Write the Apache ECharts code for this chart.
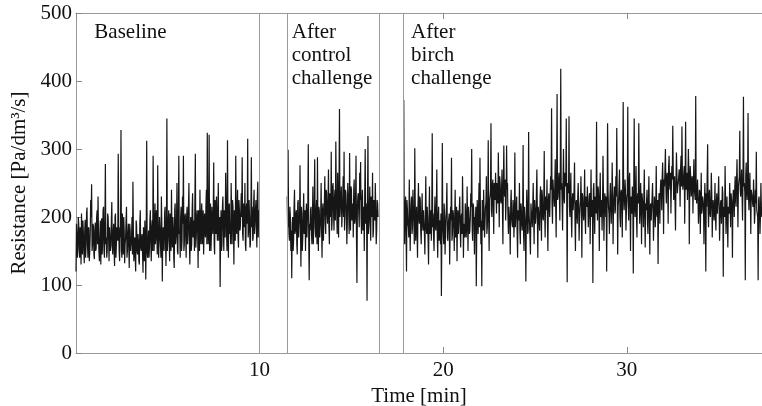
<!DOCTYPE html>
<html><head><meta charset="utf-8">
<script src="https://cdn.jsdelivr.net/npm/echarts@6/dist/echarts.min.js"></script>
<style>html,body{margin:0;padding:0;background:#fff}#c{width:762px;height:406px}</style>
</head><body><div id="c"></div>
<script>
// Sampling: each segment starts at its start time; "Values" are read at start + i*dt,
// "Mid" values are the readings half a step later (start + (i+0.5)*dt)
const baselineStart = 0, controlStart = 11.5, birchStart = 17.85, dt = 0.05;
const baselineValues = [
120,175,150,190,140,168,205,145,178,132,196,158,214,140,182,150,225,248,160,186,
138,192,155,210,230,148,175,130,198,162,215,140,278,170,150,200,135,185,158,222,
145,190,128,205,160,178,293,150,185,328,140,175,200,132,168,215,150,190,125,180,
150,200,252,135,170,120,188,145,165,130,210,150,175,118,160,195,108,312,140,180,
155,210,135,195,290,150,220,170,190,276,140,200,160,230,105,185,150,215,128,345,
165,210,135,195,240,155,185,125,220,170,250,145,290,180,200,150,230,290,160,205,
140,215,175,250,130,200,160,235,185,150,293,170,210,125,195,240,160,220,180,145,
205,170,240,324,160,321,190,150,215,175,280,145,200,230,165,250,185,97,210,160,
230,150,205,265,175,313,140,220,190,250,160,215,130,200,290,175,240,155,210,185,
235,288,165,210,250,150,220,315,180,200,160,288,215,170,240,190,225,155,252,210
];
const baselineMid = [
190,140,200,155,185,130,170,195,150,180,140,205,160,185,135,175,200,150,190,145,
180,150,200,160,175,135,195,165,145,210,150,190,160,140,205,170,185,150,195,160,
175,150,200,140,185,165,190,135,170,150,205,145,180,160,195,140,175,155,190,150,
170,145,180,160,140,195,150,175,135,190,155,170,145,185,135,165,175,150,160,140,
195,160,185,150,205,170,160,210,145,185,165,200,140,190,170,155,205,165,180,150,
190,165,205,150,180,200,140,210,160,195,150,205,175,140,215,165,190,150,200,170,
200,160,215,165,185,150,210,170,195,225,155,200,180,210,150,185,205,160,210,175,
180,215,160,200,185,150,220,175,195,205,160,225,175,190,210,165,200,180,150,215,
185,210,170,225,150,200,215,175,160,205,225,180,210,165,190,215,170,225,180,210,
200,175,220,185,160,215,190,170,225,155,210,185,165,220,175,210,185,230,170,190
];
const controlValues = [
230,299,175,215,150,110,200,165,240,180,210,145,225,190,276,127,205,170,235,185,
150,220,195,307,107,180,215,160,245,190,285,170,225,288,150,210,185,250,140,220,
200,260,175,235,190,270,160,225,296,195,250,180,240,311,205,265,170,359,215,245,
185,260,296,200,235,160,250,210,294,180,240,215,170,255,195,290,103,230,205,265,
281,175,240,200,150,300,220,77,319,190,245,165,230,265,180,215,250,160,225,200
];
const controlMid = [
185,210,165,200,180,190,150,215,175,205,160,220,170,195,180,215,150,200,175,210,
200,170,215,165,190,210,175,195,160,220,185,205,160,190,215,170,200,180,210,165,
215,190,240,205,220,185,235,200,180,245,210,225,195,240,175,220,250,200,230,185,
225,200,180,240,210,190,230,175,215,245,195,220,240,190,225,170,215,235,185,225,
200,225,180,215,235,190,205,220,175,210,190,230,200,170,225,195,210,180,220
];
const birchValues = [
372,160,230,120,210,185,255,150,220,175,240,195,301,165,215,140,250,190,225,160,
235,180,210,145,260,175,200,130,245,190,165,323,205,150,230,180,270,140,215,195,
160,84,309,175,220,145,200,250,165,190,130,215,287,175,205,150,240,185,135,210,
175,230,155,205,260,140,190,220,170,245,150,200,180,235,300,165,215,145,190,98,
225,175,250,287,160,98,205,240,170,215,260,185,313,150,230,338,200,255,175,240,
265,205,240,295,185,250,220,270,160,305,230,195,305,250,175,215,145,240,190,225,
170,295,185,230,140,205,250,160,215,180,306,150,200,105,240,175,325,190,145,220,
185,250,160,225,200,270,140,215,180,245,165,230,195,297,170,220,255,150,235,200,
260,360,190,240,215,285,170,381,230,265,195,418,250,180,300,220,260,345,104,240,
348,200,265,170,235,210,280,150,225,190,250,165,215,260,140,230,195,270,175,220,
245,185,230,160,270,200,103,250,175,225,340,195,240,150,265,210,180,290,165,235,
200,120,338,215,175,250,190,280,160,230,205,260,331,145,225,270,185,240,170,369,
210,255,180,230,362,195,265,150,220,245,117,345,200,275,170,235,338,190,250,160,
225,185,270,155,210,240,175,260,145,220,195,250,165,230,185,275,200,131,235,190,
255,210,280,175,245,300,220,265,190,290,240,205,275,334,225,260,180,295,235,250,
270,215,290,333,240,265,190,340,250,225,300,160,275,230,260,205,285,240,378,220,
255,190,240,175,265,210,230,160,250,120,215,307,185,240,200,265,170,225,195,250,
180,235,205,260,165,220,190,245,112,210,275,175,230,155,215,250,185,225,140,240,
200,260,215,285,185,245,327,230,270,195,377,250,107,280,225,353,210,265,175,240,
220,255,190,240,296,205,107,230,175,250,200
];
const birchMid = [
200,215,180,225,190,170,210,195,230,185,205,160,220,190,175,215,200,230,180,200,
190,210,175,200,185,215,165,195,175,210,200,185,170,205,185,215,175,200,165,190,
205,175,190,160,200,180,215,170,190,205,175,195,165,210,185,200,170,215,190,175,
210,180,200,175,215,190,170,205,185,195,215,175,200,215,185,220,195,200,215,180,
200,215,185,210,195,225,180,205,190,220,175,210,195,225,240,210,245,220,250,225,
235,250,220,245,260,225,240,210,250,235,255,220,240,200,215,190,220,200,185,210,
200,185,215,175,210,195,180,220,190,205,175,215,185,200,210,180,205,190,220,195,
215,200,225,190,235,205,215,195,230,210,240,200,220,205,230,210,195,225,215,235,
240,220,255,230,245,215,260,225,250,235,270,240,220,255,230,265,245,225,250,235,
215,235,200,225,210,240,195,220,205,230,215,200,225,210,235,205,220,200,230,215,
220,205,235,215,200,225,240,210,230,205,220,245,215,230,200,225,215,235,205,225,
230,215,240,205,225,250,215,235,220,245,210,230,240,215,225,200,235,220,245,230,
225,240,210,235,220,250,215,230,205,225,240,215,235,200,230,220,245,210,225,235,
215,230,200,220,210,190,225,205,215,195,230,210,200,220,215,205,225,210,230,240,
245,260,235,255,270,245,260,240,275,250,265,245,255,270,240,260,250,265,245,260,
255,270,245,260,250,275,255,240,265,250,270,245,260,235,255,250,240,225,235,220,
225,210,235,220,205,230,215,225,200,235,215,210,230,205,220,235,210,225,215,200,
220,205,230,215,200,225,210,235,215,200,225,210,230,215,205,220,235,215,225,230,
240,225,255,235,245,260,240,250,230,255,245,235,260,240,250,230,245,225,240,230,
215,230,205,220,210,200,225,210,200,215
];
const phaseMarkers = [10, 11.5, 16.5, 17.8];
const yTicks = [0, 100, 200, 300, 400, 500];
const xTicks = [10, 20, 30];
const phaseLabels = [
  {text: 'Baseline', t: 1.0},
  {text: 'After\ncontrol\nchallenge', t: 11.75},
  {text: 'After\nbirch\nchallenge', t: 18.25}
];

function toPairs(start, vals, mids) {
  const out = [];
  vals.forEach((v, i) => {
    out.push([+(start + i * dt).toFixed(4), v]);
    if (i < mids.length) out.push([+(start + (i + 0.5) * dt).toFixed(4), mids[i]]);
  });
  return out;
}

const FONT = 'Liberation Serif';
const chart = echarts.init(document.getElementById('c'), null, {renderer: 'canvas'});
const lineStyle = {color: '#161616', width: 1.2};
const mk = (name, data) => ({
  name, type: 'line', data, symbol: 'none', lineStyle, silent: true, animation: false
});
const series = [
  mk('baseline', toPairs(baselineStart, baselineValues, baselineMid)),
  mk('control', toPairs(controlStart, controlValues, controlMid)),
  mk('birch', toPairs(birchStart, birchValues, birchMid))
];
series[0].markLine = {
  silent: true, symbol: ['none', 'none'], label: {show: false},
  lineStyle: {color: '#9a9a9a', type: 'solid', width: 1},
  data: phaseMarkers.map(x => ({xAxis: x})), animation: false
};
const axisCommon = {
  axisLine: {show: true, lineStyle: {color: '#999', width: 1}},
  axisTick: {show: true, inside: true, length: 6, lineStyle: {color: '#888'}},
  splitLine: {show: false}
};
chart.setOption({
  animation: false,
  grid: {left: 76, right: 0, top: 13, bottom: 53, containLabel: false, outerBoundsMode: 'none'},
  xAxis: [
    Object.assign({type: 'value', min: 0, max: 37.36, interval: 10,
      name: 'Time [min]', nameLocation: 'middle', nameGap: 27,
      nameTextStyle: {fontFamily: FONT, fontSize: 21, color: '#111'},
      axisLabel: {fontFamily: FONT, fontSize: 21, color: '#111', margin: 7,
        showMinLabel: false, showMaxLabel: false,
        formatter: v => xTicks.includes(v) ? String(v) : ''}}, axisCommon),
    Object.assign({type: 'value', position: 'top', min: 0, max: 37.36, interval: 10,
      axisLabel: {show: false}}, axisCommon)
  ],
  yAxis: Object.assign({type: 'value', min: 0, max: 500, interval: 100,
    name: 'Resistance [Pa/dm³/s]', nameLocation: 'middle', nameGap: 40,
    nameTextStyle: {fontFamily: FONT, fontSize: 21, color: '#111'},
    axisLabel: {fontFamily: FONT, fontSize: 21, color: '#111', margin: 4,
      formatter: v => yTicks.includes(v) ? String(v) : ''}}, axisCommon),
  series
});
// place phase labels at their time positions via the axis scale
const labelTop = 21;
chart.setOption({
  graphic: phaseLabels.map((l, i) => ({
    id: 'lbl' + i, type: 'text', silent: true,
    x: chart.convertToPixel({xAxisIndex: 0}, l.t), y: labelTop,
    style: {text: l.text, fontFamily: FONT, fontSize: 21, fill: '#111', lineHeight: 23}
  }))
});
</script></body></html>
